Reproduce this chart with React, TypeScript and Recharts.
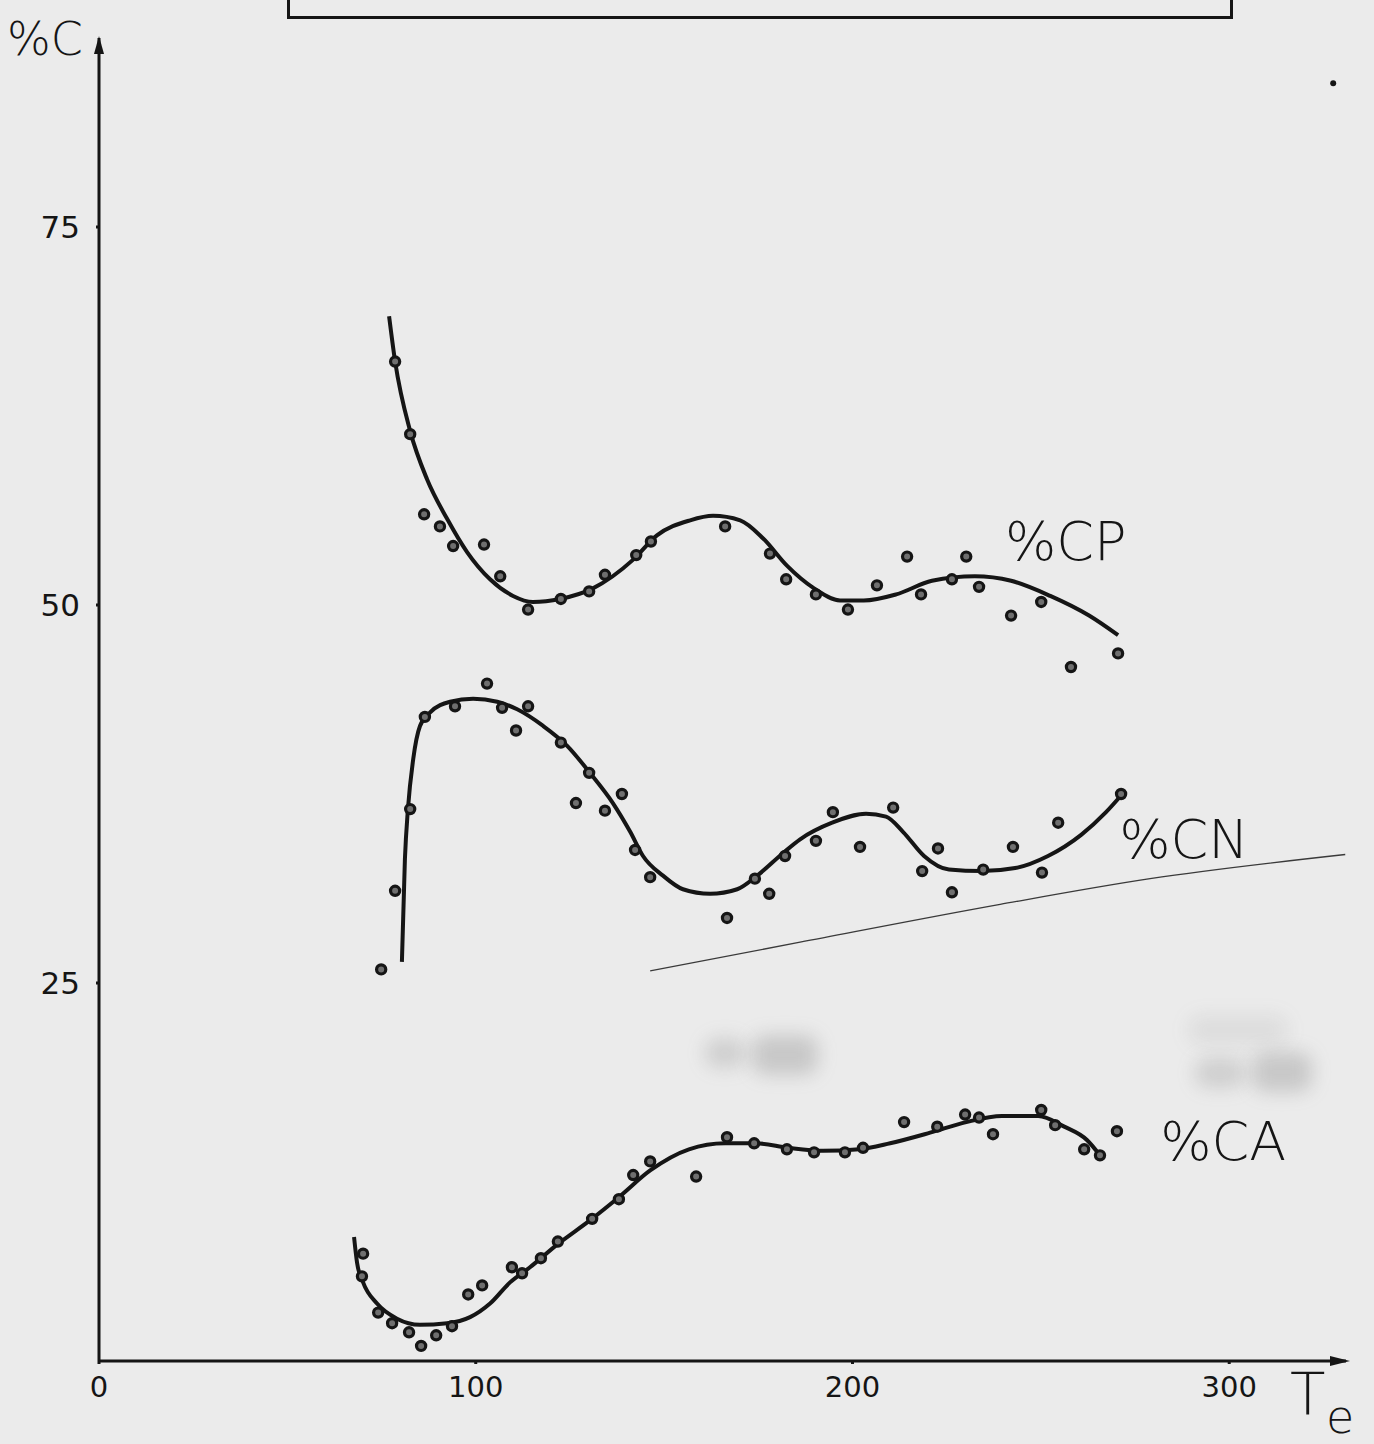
import * as React from "react";
import {
  ComposedChart,
  Line,
  Scatter,
  XAxis,
  YAxis,
  ReferenceDot,
} from "recharts";

// Measured points [Te, %C] and the hand-fitted curves through them.
const cpPoints = [
  [78.6, 66.1], [82.6, 61.3], [86.3, 56.0], [90.5, 55.2], [94.0, 53.9],
  [102.2, 54.0], [106.5, 51.9], [113.9, 49.7], [122.6, 50.4], [130.1, 50.9],
  [134.3, 52.0], [142.6, 53.3], [146.5, 54.2], [166.2, 55.2], [178.1, 53.4],
  [182.4, 51.7], [190.3, 50.7], [198.8, 49.7], [206.5, 51.3], [214.5, 53.2],
  [218.2, 50.7], [226.4, 51.7], [230.2, 53.2], [233.6, 51.2], [242.1, 49.3],
  [250.1, 50.2], [258.0, 45.9], [270.5, 46.8],
];
const cpCurve = [
  [77.0, 69.1], [78.6, 66.1], [82.6, 61.5], [87.1, 58.3], [92.4, 55.7],
  [97.7, 53.5], [103.8, 51.7], [109.9, 50.6], [115.2, 50.2], [122.4, 50.4],
  [131.1, 51.1], [141.8, 53.0], [148.1, 54.6], [156.9, 55.6], [163.0, 55.9],
  [170.2, 55.6], [176.3, 54.4], [182.6, 52.6], [189.8, 51.1], [196.7, 50.3],
  [203.0, 50.3], [211.6, 50.7], [221.1, 51.6], [232.5, 51.9], [242.1, 51.6],
  [252.5, 50.6], [262.8, 49.3], [270.5, 48.0],
];

const cnPoints = [
  [74.9, 25.9], [78.6, 31.1], [82.6, 36.5], [86.5, 42.6], [94.5, 43.3],
  [103.0, 44.8], [107.0, 43.2], [110.7, 41.7], [113.9, 43.3], [122.6, 40.9],
  [126.6, 36.9], [130.1, 38.9], [134.3, 36.4], [138.8, 37.5], [142.3, 33.8],
  [146.3, 32.0], [166.7, 29.3], [174.1, 31.9], [177.9, 30.9], [182.1, 33.4],
  [190.3, 34.4], [194.8, 36.3], [202.0, 34.0], [210.8, 36.6], [218.5, 32.4],
  [222.7, 33.9], [226.4, 31.0], [234.7, 32.5], [242.6, 34.0], [250.3, 32.3],
  [254.6, 35.6], [271.3, 37.5],
];
const cnCurve = [
  [80.4, 26.4], [81.2, 33.2], [82.0, 36.5], [83.4, 39.8], [85.2, 42.0],
  [87.9, 42.9], [93.2, 43.6], [99.3, 43.8], [105.7, 43.6], [111.0, 43.1],
  [117.9, 42.0], [124.2, 40.7], [130.3, 38.9], [136.4, 36.9], [141.0, 35.0],
  [144.4, 33.4], [149.7, 32.1], [155.0, 31.2], [162.2, 30.9], [169.4, 31.2],
  [174.7, 32.1], [181.6, 33.6], [186.1, 34.5], [194.6, 35.6], [203.6, 36.2],
  [208.9, 36.0], [213.4, 35.0], [219.0, 33.4], [225.6, 32.5], [234.4, 32.4],
  [243.2, 32.6], [251.9, 33.4], [260.7, 34.8], [267.3, 36.3], [271.3, 37.4],
];

const caPoints = [
  [70.1, 7.1], [69.8, 5.6], [74.1, 3.2], [77.8, 2.5], [82.3, 1.9],
  [85.5, 1.0], [89.5, 1.7], [93.7, 2.3], [98.0, 4.4], [101.7, 5.0],
  [109.6, 6.2], [112.3, 5.8], [117.3, 6.8], [121.8, 7.9], [130.9, 9.4],
  [138.0, 10.7], [141.8, 12.3], [146.3, 13.2], [158.5, 12.2], [166.7, 14.8],
  [173.9, 14.4], [182.6, 14.0], [189.8, 13.8], [198.0, 13.8], [202.8, 14.1],
  [213.7, 15.8], [222.5, 15.5], [229.9, 16.3], [233.6, 16.1], [237.3, 15.0],
  [250.1, 16.6], [253.8, 15.6], [261.5, 14.0], [265.7, 13.6], [270.2, 15.2],
];
const caCurve = [
  [67.7, 8.2], [68.5, 6.5], [70.1, 5.2], [73.8, 3.8], [79.1, 2.8],
  [85.2, 2.4], [92.4, 2.5], [98.5, 2.9], [103.8, 3.8], [109.1, 5.2],
  [114.4, 6.2], [121.6, 7.7], [130.3, 9.3], [138.3, 10.9], [146.3, 12.6],
  [156.6, 14.0], [166.2, 14.4], [174.4, 14.4], [182.9, 14.1], [192.2, 13.9],
  [201.8, 14.0], [210.0, 14.4], [220.6, 15.1], [230.2, 15.8], [239.7, 16.2],
  [249.3, 16.2], [256.2, 15.5], [262.3, 14.6], [265.7, 13.6],
];

// faint pencil stroke crossing the lower half of the sheet
const creaseLine = [
  [146.3, 25.8], [186.1, 27.7], [239.2, 30.2], [279.0, 31.9], [330.8, 33.5],
];

const xTicks = [0, 100, 200, 300];
const yTicks = [25, 50, 75];
const X_MAX = 331;
const Y_MAX = 87.5;

const INK = "#151515";
const FONT = "'DejaVu Sans', Lato, 'Open Sans', sans-serif";

const toXY = (rows: number[][]) => rows.map(([x, y]) => ({ x, y }));

function InkDot(props: any) {
  const { cx, cy } = props;
  if (cx == null || cy == null) return null;
  return (
    <circle cx={cx} cy={cy} r={4.6} fill="#6f6f6f" stroke={INK} strokeWidth={3.2} />
  );
}

function YArrow(props: any) {
  const { cx, cy } = props;
  return (
    <g>
      <path d={`M${cx},${cy - 2} L${cx - 5},${cy + 16} L${cx + 5},${cy + 16} Z`} fill={INK} />
      <text x={cx - 92} y={cy + 17} fontFamily={FONT} fontWeight={200} fontSize={46} fill={INK}>
        %C
      </text>
    </g>
  );
}

function XArrow(props: any) {
  const { cx, cy } = props;
  return (
    <g>
      <path d={`M${cx + 4},${cy} L${cx - 16},${cy - 5} L${cx - 16},${cy + 5} Z`} fill={INK} />
      <text x={cx - 56} y={cy + 54} fontFamily={FONT} fontWeight={200} fontSize={58} fill={INK}>
        T
      </text>
      <text x={cx - 20} y={cy + 72} fontFamily={FONT} fontWeight={200} fontSize={46} fill={INK}>
        e
      </text>
    </g>
  );
}

function seriesLabel(text: string) {
  return (props: any) => (
    <text x={props.cx} y={props.cy} fontFamily={FONT} fontWeight={200} fontSize={54} fill={INK}>
      {text}
    </text>
  );
}

function StrayDot(props: any) {
  return <circle cx={props.cx} cy={props.cy} r={3} fill={INK} />;
}

const smudge = (left: number, top: number, w: number, h: number, a = 0.22): React.CSSProperties => ({
  position: "absolute",
  left,
  top,
  width: w,
  height: h,
  background: `rgba(110,110,110,${a})`,
  filter: "blur(9px)",
  borderRadius: 14,
});

export default function App() {
  return (
    <div
      style={{
        position: "absolute",
        left: 0,
        top: 0,
        width: 1374,
        height: 1444,
        background: "#ebebeb",
        overflow: "hidden",
      }}
    >
      <div style={smudge(705, 1038, 40, 30)} />
      <div style={smudge(752, 1035, 66, 40, 0.28)} />
      <div style={smudge(1195, 1058, 50, 30)} />
      <div style={smudge(1252, 1052, 60, 40, 0.28)} />
      <div style={smudge(1188, 1015, 100, 30, 0.1)} />
      <div
        style={{
          position: "absolute",
          left: 287,
          top: -10,
          width: 946,
          height: 29,
          border: `3px solid ${INK}`,
          boxSizing: "border-box",
        }}
      />
      <ComposedChart
        width={1374}
        height={1444}
        margin={{ top: 38, right: 28, left: 0, bottom: 0 }}
      >
        <XAxis
          type="number"
          dataKey="x"
          domain={[0, X_MAX]}
          ticks={xTicks}
          allowDataOverflow
          height={83}
          axisLine={{ stroke: INK, strokeWidth: 3 }}
          tickLine={{ stroke: INK, strokeWidth: 3 }}
          tickSize={3}
          tickMargin={12}
          tick={{ fill: INK, fontSize: 29, fontFamily: FONT }}
        />
        <YAxis
          type="number"
          dataKey="y"
          domain={[0, Y_MAX]}
          ticks={yTicks}
          allowDataOverflow
          width={99}
          axisLine={{ stroke: INK, strokeWidth: 3 }}
          tickLine={{ stroke: INK, strokeWidth: 3 }}
          tickSize={3}
          tickMargin={16}
          tick={{ fill: INK, fontSize: 31, fontFamily: FONT }}
        />

        <Line
          data={toXY(creaseLine)}
          dataKey="y"
          type="monotone"
          stroke="#3a3a3a"
          strokeWidth={1.3}
          dot={false}
          isAnimationActive={false}
        />
        <Line
          data={toXY(cpCurve)}
          dataKey="y"
          type="monotone"
          stroke={INK}
          strokeWidth={4}
          dot={false}
          isAnimationActive={false}
        />
        <Line
          data={toXY(cnCurve)}
          dataKey="y"
          type="monotone"
          stroke={INK}
          strokeWidth={4}
          dot={false}
          isAnimationActive={false}
        />
        <Line
          data={toXY(caCurve)}
          dataKey="y"
          type="monotone"
          stroke={INK}
          strokeWidth={4}
          dot={false}
          isAnimationActive={false}
        />
        <Scatter data={toXY(cpPoints)} dataKey="y" shape={InkDot} isAnimationActive={false} />
        <Scatter data={toXY(cnPoints)} dataKey="y" shape={InkDot} isAnimationActive={false} />
        <Scatter data={toXY(caPoints)} dataKey="y" shape={InkDot} isAnimationActive={false} />

        <ReferenceDot x={240.5} y={53.0} ifOverflow="visible" shape={seriesLabel("%CP")} />
        <ReferenceDot x={270.8} y={33.3} ifOverflow="visible" shape={seriesLabel("%CN")} />
        <ReferenceDot x={281.7} y={13.3} ifOverflow="visible" shape={seriesLabel("%CA")} />
        <ReferenceDot x={0} y={Y_MAX} ifOverflow="visible" shape={YArrow} />
        <ReferenceDot x={X_MAX} y={0} ifOverflow="visible" shape={XArrow} />
        <ReferenceDot x={327.6} y={84.5} ifOverflow="visible" shape={StrayDot} />
      </ComposedChart>
    </div>
  );
}
